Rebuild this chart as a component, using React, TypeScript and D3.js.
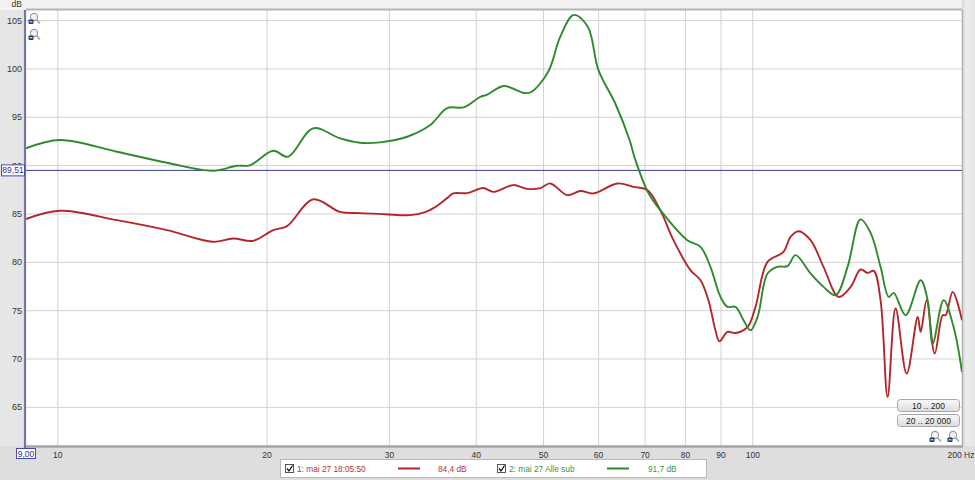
import React from 'react';
import * as d3 from 'd3';

const W = 975;
const H = 480;

const freqTicks = [10, 20, 30, 40, 50, 60, 70, 80, 90, 100];
const dbTicks = [65, 70, 75, 80, 85, 90, 95, 100, 105];

const greenFreq = [9.0, 10.07, 12.16, 14.36, 16.72, 18.1, 18.89, 20.41, 21.44, 23.3, 25.48, 27.22, 29.09, 31.82, 34.35, 36.33, 38.37, 40.52, 41.49, 43.81, 46.89, 48.0, 50.75, 52.85, 55.27, 57.91, 59.95, 63.36, 66.48, 67.78, 70.76, 73.6, 80.5, 84.1, 86.9, 89.85, 91.96, 94.43, 96.97, 99.25, 101.6, 105.0, 108.5, 112.2, 115.2, 121.1, 126.4, 131.6, 136.9, 142.9, 147.8, 152.7, 156.9, 159.5, 165.9, 174.4, 178.5, 181.5, 188.2, 194.5, 200];
const greenDb = [91.79, 92.65, 91.44, 90.3, 89.47, 89.99, 90.03, 91.54, 90.92, 93.86, 92.82, 92.37, 92.41, 92.99, 94.2, 95.96, 96.03, 97.1, 97.34, 98.24, 97.51, 97.62, 99.69, 103.34, 105.59, 104.35, 99.9, 96.48, 92.65, 90.58, 87.16, 85.4, 82.29, 81.6, 79.53, 76.42, 75.39, 75.39, 74.01, 72.97, 74.35, 78.84, 79.53, 79.6, 80.74, 78.84, 77.46, 76.6, 79.53, 84.44, 83.02, 79.53, 76.42, 76.84, 74.53, 78.15, 76.08, 71.6, 76.08, 73.31, 68.65];

const redFreq = [9.0, 10.07, 12.16, 14.36, 16.72, 17.87, 19.09, 20.41, 21.37, 23.3, 25.48, 27.22, 29.58, 32.14, 33.77, 34.91, 36.33, 37.06, 38.82, 40.94, 42.32, 45.22, 47.38, 49.46, 51.12, 54.09, 56.48, 58.97, 63.85, 67.33, 70.52, 73.6, 76.89, 81.34, 84.1, 86.33, 88.36, 89.54, 91.96, 94.43, 98.27, 100.9, 105.0, 110.7, 113.3, 116.4, 121.1, 126.4, 132.9, 138.3, 142.9, 146.3, 149.3, 152.7, 156.3, 160.5, 166.5, 172.7, 174.4, 177.9, 182.7, 187.6, 189.5, 193.9, 200];
const redDb = [84.47, 85.33, 84.36, 83.33, 82.12, 82.47, 82.22, 83.33, 83.74, 86.51, 85.22, 85.09, 84.98, 84.88, 85.19, 85.71, 86.64, 87.13, 87.16, 87.68, 87.29, 87.99, 87.6, 87.68, 88.16, 86.95, 87.37, 87.13, 88.16, 87.81, 87.47, 85.4, 82.29, 79.19, 78.15, 76.08, 72.97, 71.83, 72.8, 72.69, 73.31, 75.39, 80.05, 81.08, 82.63, 83.22, 82.29, 79.53, 76.42, 77.46, 79.26, 78.91, 79.11, 76.08, 66.07, 75.22, 68.49, 74.35, 72.8, 76.08, 70.56, 74.53, 74.53, 76.94, 74.01];

const series = [
  { name: '1: mai 27 18:05:50', level: '84,4 dB', color: '#b3272c', text: '#b03535', freq: redFreq, db: redDb },
  { name: '2: mai 27 Alle sub', level: '91,7 dB', color: '#2e8a2e', text: '#3a9a3a', freq: greenFreq, db: greenDb },
];

const markerDb = 89.51;
const markerLabel = '89,51';
const cursorLabel = '9,00';

const PL = 26, PR = 962, PT = 10, PB = 446;
const FONT = '"Liberation Sans", Arial, sans-serif';

function Magnifier({ x, y }: { x: number; y: number }) {
  return (
    <g transform={`translate(${x},${y})`}>
      <circle cx={6} cy={4} r={3.6} fill="#f2f2f2" stroke="#9a9a9a" strokeWidth={1.1} />
      <line x1={8.6} y1={6.6} x2={12} y2={10.5} stroke="#a8a8a8" strokeWidth={1.6} />
      <rect x={0.5} y={6.5} width={5} height={4.5} rx={1} fill="#1d3c78" />
      <line x1={1.6} y1={8.8} x2={4.4} y2={8.8} stroke="#fff" strokeWidth={1} />
    </g>
  );
}

export default function App() {
  const x = d3.scaleLog().domain([9, 200]).range([PL, PR]);
  const y = d3.scaleLinear().domain([61, 106.1]).range([PB, PT]);

  const line = d3
    .line<[number, number]>()
    .x((d) => x(d[0]))
    .y((d) => y(d[1]))
    .curve(d3.curveCatmullRom.alpha(0.5));

  const my = y(markerDb);

  return (
    <svg
      width={W}
      height={H}
      style={{ position: 'absolute', left: 0, top: 0, fontFamily: FONT }}
    >
      <defs>
        <clipPath id="plotclip">
          <rect x={PL} y={PT} width={PR - PL} height={PB - PT} />
        </clipPath>
        <linearGradient id="btn" x1="0" x2="0" y1="0" y2="1">
          <stop offset="0" stopColor="#fafafa" />
          <stop offset="1" stopColor="#dcdcdc" />
        </linearGradient>
        <linearGradient id="rightbar" x1="0" x2="1" y1="0" y2="0">
          <stop offset="0" stopColor="#d8d8d8" />
          <stop offset="0.3" stopColor="#ececec" />
          <stop offset="1" stopColor="#e6e6e6" />
        </linearGradient>
      </defs>

      {/* backgrounds */}
      <rect x={0} y={0} width={W} height={H} fill="#e6e6e6" />
      <rect x={0} y={0} width={W} height={PT} fill="#f2f2f2" />
      <rect x={PR} y={0} width={W - PR} height={H} fill="url(#rightbar)" />
      <rect x={0} y={PB} width={W} height={H - PB} fill="#dedede" />
      <rect x={PL} y={PT} width={PR - PL} height={PB - PT} fill="#ffffff" />

      {/* grid */}
      {freqTicks.map((f) => (
        <line key={'vx' + f} x1={x(f)} x2={x(f)} y1={PT} y2={PB} stroke="#d2d2d2" strokeWidth={1} />
      ))}
      {dbTicks.map((v) => (
        <line key={'hy' + v} x1={PL} x2={PR} y1={y(v)} y2={y(v)} stroke="#d2d2d2" strokeWidth={1} />
      ))}

      {/* borders */}
      <line x1={PL} x2={PR} y1={PT - 0.5} y2={PT - 0.5} stroke="#b4b4b4" strokeWidth={2} />
      <line x1={PL} x2={PR + 1} y1={PB + 0.5} y2={PB + 0.5} stroke="#a4a4a4" strokeWidth={2.5} />
      <line x1={PR + 0.5} x2={PR + 0.5} y1={PT} y2={PB} stroke="#b0b0b0" strokeWidth={1.5} />

      {/* marker horizontal line */}
      <line x1={PL} x2={PR} y1={my} y2={my} stroke="#3c3c8c" strokeWidth={1} />

      {/* curves */}
      <g clipPath="url(#plotclip)">
        {series.map((s) => (
          <path
            key={s.name}
            d={line(s.freq.map((f, i) => [f, s.db[i]] as [number, number])) || ''}
            fill="none"
            stroke={s.color}
            strokeWidth={1.9}
            strokeLinejoin="round"
          />
        ))}
      </g>

      {/* left cursor line */}
      <line x1={PL - 1} x2={PL - 1} y1={PT} y2={PB + 2} stroke="#7676a6" strokeWidth={2.2} />

      {/* y ticks */}
      {dbTicks.map((v) => (
        <text key={'yt' + v} x={22} y={y(v) + 3} fontSize={9} fill="#333" textAnchor="end">
          {v}
        </text>
      ))}
      <text x={22} y={7} fontSize={8.5} fill="#333" textAnchor="end">dB</text>

      {/* marker label */}
      <rect x={1.5} y={my - 5.5} width={23} height={11} fill="#ffffff" stroke="#4a4aa8" strokeWidth={1} />
      <text x={13} y={my + 3} fontSize={8.5} fill="#30309a" textAnchor="middle">{markerLabel}</text>

      {/* x ticks */}
      {freqTicks.map((f) => (
        <text key={'xt' + f} x={x(f)} y={458} fontSize={8.5} fill="#333" textAnchor="middle">
          {f}
        </text>
      ))}
      <text x={961} y={458} fontSize={8.5} fill="#333" textAnchor="middle">200 Hz</text>

      {/* cursor label */}
      <rect x={16.5} y={448.5} width={19} height={10} fill="#ffffff" stroke="#4a4aa8" strokeWidth={1} />
      <text x={26} y={456.5} fontSize={8.5} fill="#30309a" textAnchor="middle">{cursorLabel}</text>

      {/* magnifier icons */}
      <Magnifier x={28} y={13} />
      <Magnifier x={28} y={29} />
      <Magnifier x={929} y={431} />
      <Magnifier x={947} y={431} />

      {/* buttons */}
      <rect x={897.5} y={399.5} width={62} height={12} rx={3} fill="url(#btn)" stroke="#a6a6a6" />
      <text x={928.5} y={408.5} fontSize={8.5} fill="#222" textAnchor="middle">10 .. 200</text>
      <rect x={897.5} y={414.5} width={62} height={12} rx={3} fill="url(#btn)" stroke="#a6a6a6" />
      <text x={928.5} y={423.5} fontSize={8.5} fill="#222" textAnchor="middle">20 .. 20 000</text>

      {/* legend */}
      <rect x={280.5} y={459.5} width={426} height={18} fill="#ffffff" stroke="#b8b8b8" />
      {series.map((s, i) => {
        const ox = i === 0 ? 0 : 212;
        return (
          <g key={'lg' + i} transform={`translate(${ox},0)`}>
            <rect x={285.5} y={464.5} width={8} height={8} fill="#fff" stroke="#555" />
            <path d="M287,468.5 L289,471 L292.5,465.5" fill="none" stroke="#111" strokeWidth={1.3} />
            <text x={297} y={471.5} fontSize={8.3} fill={s.text}>{s.name}</text>
            <line x1={398 - (i === 0 ? 0 : 3)} x2={420 - (i === 0 ? 0 : 3)} y1={468.5} y2={468.5} stroke={s.color} strokeWidth={2} />
            <text x={438 - (i === 0 ? 0 : 2)} y={471.5} fontSize={8.3} fill={s.text}>{s.level}</text>
          </g>
        );
      })}
    </svg>
  );
}
